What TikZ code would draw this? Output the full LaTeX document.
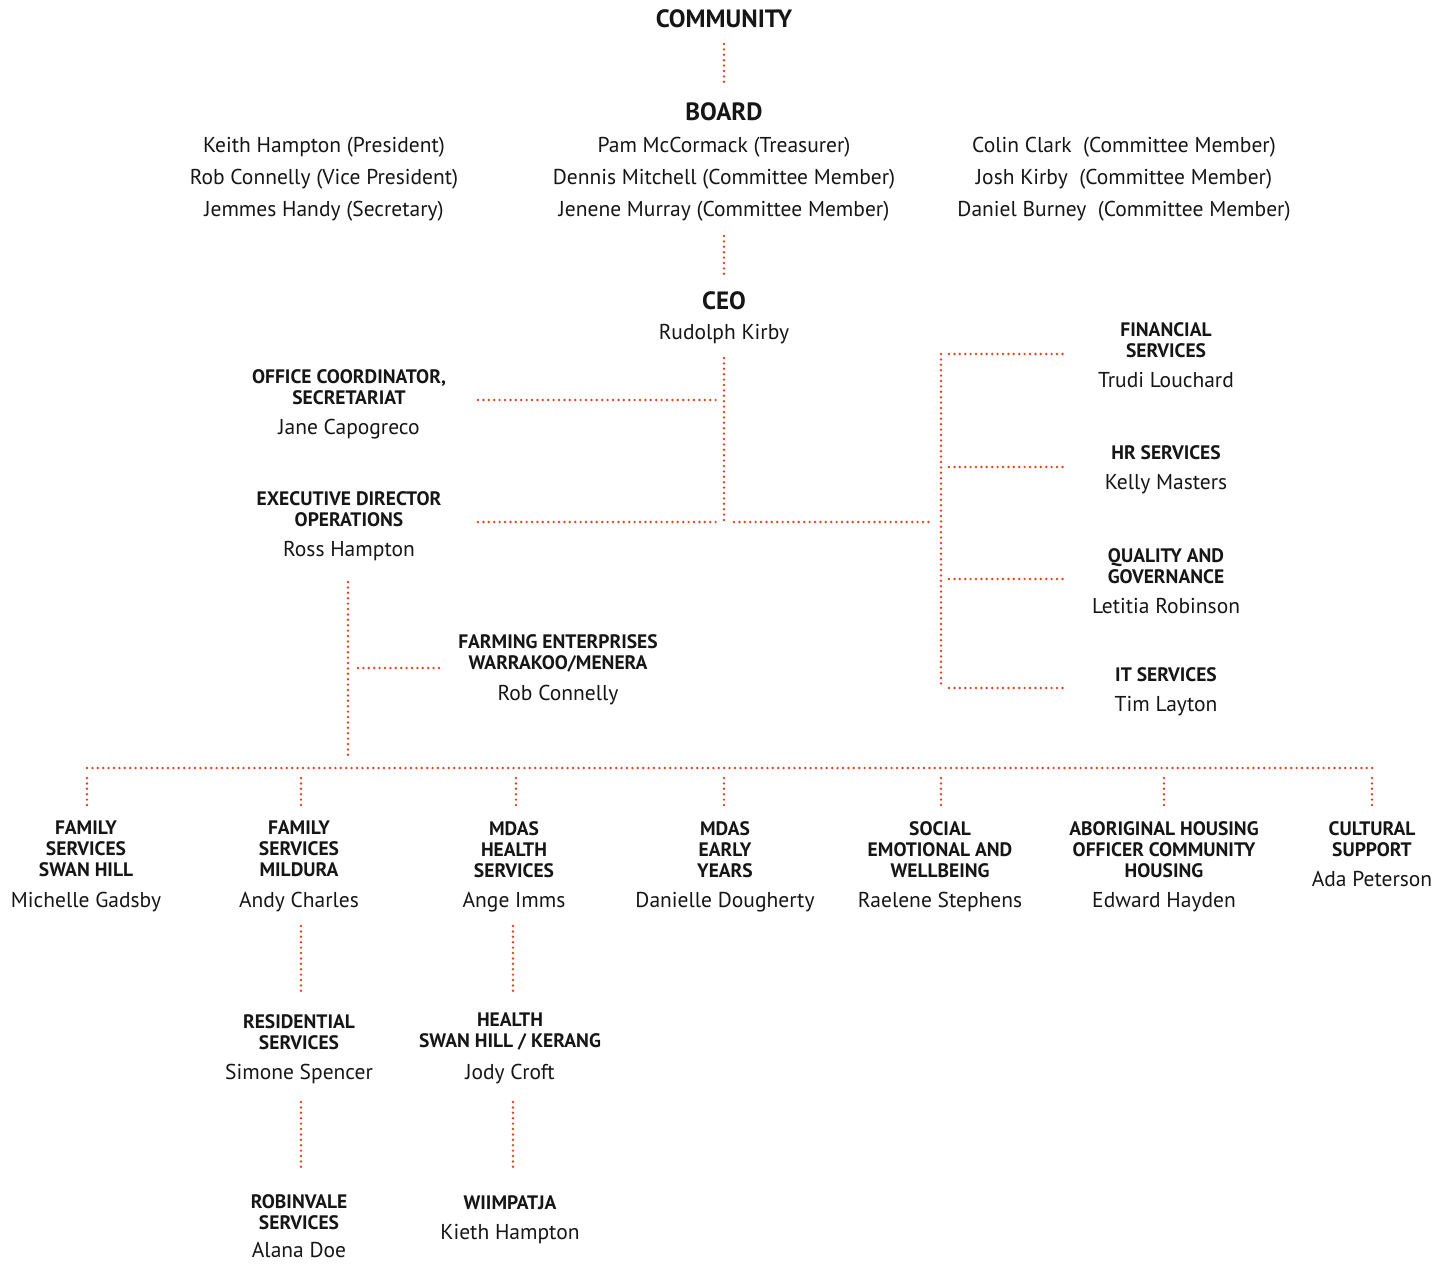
\documentclass[tikz,border=0pt]{standalone}
\usepackage{fontspec}
\setmainfont{PT Sans}
\definecolor{dotc}{HTML}{E4441F}
\definecolor{txt}{HTML}{161616}
\tikzset{
 conn/.style={dotc, line width=2.7pt, line cap=round, dash pattern=on 0pt off 5.4pt},
 ttl/.style={font=\bfseries\fontsize{19.5}{21}\selectfont, align=center, anchor=north, inner sep=0pt, text=txt},
 head/.style={font=\bfseries\fontsize{25}{27}\selectfont, anchor=north, inner sep=0pt, text=txt},
 nm/.style={font=\fontsize{21.5}{32}\selectfont, align=center, anchor=north, inner sep=0pt, text=txt},
}
\begin{document}
\begin{tikzpicture}[x=1pt,y=-1pt]
\useasboundingbox[fill=white] (0,0) rectangle (1450,1263);
% top
\node[head] (community) at (724,9) {COMMUNITY};
\node[head] (board) at (724,102) {BOARD};
\node[nm] (bl) at (324,137) {Keith Hampton (President)\\Rob Connelly (Vice President)\\Jemmes Handy (Secretary)};
\node[nm] (bm) at (724,137) {Pam McCormack (Treasurer)\\Dennis Mitchell (Committee Member)\\Jenene Murray (Committee Member)};
\node[nm] (br) at (1124,137) {Colin Clark\ \ (Committee Member)\\Josh Kirby\ \ (Committee Member)\\Daniel Burney\ \ (Committee Member)};
\node[head] (ceo) at (724,291) {CEO};
\node[nm] (ceon) at (724,324) {Rudolph Kirby};
% left
\node[ttl] (off) at (349,369) {OFFICE COORDINATOR,\\SECRETARIAT};
\node[nm] (offn) at (349,419) {Jane Capogreco};
\node[ttl] (exe) at (349,491) {EXECUTIVE DIRECTOR\\OPERATIONS};
\node[nm] (exen) at (349,541) {Ross Hampton};
\node[ttl] (farm) at (558,634) {FARMING ENTERPRISES\\WARRAKOO/MENERA};
\node[nm] (farmn) at (558,685) {Rob Connelly};
% right
\node[ttl] (fin) at (1166,322) {FINANCIAL\\SERVICES};
\node[nm] (finn) at (1166,372) {Trudi Louchard};
\node[ttl] (hr) at (1166,445) {HR SERVICES};
\node[nm] (hrn) at (1166,474) {Kelly Masters};
\node[ttl] (qual) at (1166,548) {QUALITY AND\\GOVERNANCE};
\node[nm] (qualn) at (1166,598) {Letitia Robinson};
\node[ttl] (it) at (1166,667) {IT SERVICES};
\node[nm] (itn) at (1166,696) {Tim Layton};
% bottom row
\node[ttl] (fsh) at (86,821) {FAMILY\\SERVICES\\SWAN HILL};
\node[nm] (fshn) at (86,892) {Michelle Gadsby};
\node[ttl] (fsm) at (299,821) {FAMILY\\SERVICES\\MILDURA};
\node[nm] (fsmn) at (299,892) {Andy Charles};
\node[ttl] (mhs) at (514,821) {MDAS\\HEALTH\\SERVICES};
\node[nm] (mhsn) at (514,892) {Ange Imms};
\node[ttl] (mey) at (725,821) {MDAS\\EARLY\\YEARS};
\node[nm] (meyn) at (725,892) {Danielle Dougherty};
\node[ttl] (sew) at (940,821) {SOCIAL\\EMOTIONAL AND\\WELLBEING};
\node[nm] (sewn) at (940,892) {Raelene Stephens};
\node[ttl] (aho) at (1164,821) {ABORIGINAL HOUSING\\OFFICER COMMUNITY\\HOUSING};
\node[nm] (ahon) at (1164,892) {Edward Hayden};
\node[ttl] (cul) at (1372,821) {CULTURAL\\SUPPORT};
\node[nm] (culn) at (1372,871) {Ada Peterson};
% lower
\node[ttl] (res) at (299,1014) {RESIDENTIAL\\SERVICES};
\node[nm] (resn) at (299,1064) {Simone Spencer};
\node[ttl] (hsk) at (510,1013) {HEALTH\\SWAN HILL / KERANG};
\node[nm] (hskn) at (510,1064) {Jody Croft};
\node[ttl] (rob) at (299,1194) {ROBINVALE\\SERVICES};
\node[nm] (robn) at (299,1242) {Alana Doe};
\node[ttl] (wii) at (510,1195) {WIIMPATJA};
\node[nm] (wiin) at (510,1224) {Kieth Hampton};
% coordinates
\coordinate (a1) at (724,44); \coordinate (a2) at (724,83);
\coordinate (b1) at (724,236); \coordinate (b2) at (724,275);
\coordinate (s1) at (724,358); \coordinate (s2) at (724,522);
\coordinate (o1) at (478,400); \coordinate (o2) at (716,400);
\coordinate (e1) at (478,522); \coordinate (e2) at (716,522);
\coordinate (r1) at (734,522); \coordinate (r2) at (932,522);
\coordinate (rs1) at (941,354); \coordinate (rs2) at (941,688);
\coordinate (d1) at (348,582); \coordinate (d2) at (348,760);
\coordinate (f1) at (358,668); \coordinate (f2) at (440,668);
\coordinate (bus1) at (87,768); \coordinate (bus2) at (1374,768);
\draw[conn] (a1) -- (a2);
\draw[conn] (b1) -- (b2);
\draw[conn] (s1) -- (s2);
\draw[conn] (o1) -- (o2);
\draw[conn] (e1) -- (e2);
\draw[conn] (r1) -- (r2);
\draw[conn] (rs1) -- (rs2);
\foreach \yy/\nn in {354/fin,467/hr,579/qual,688/it}{
  \coordinate (\nn l) at (949,\yy); \coordinate (\nn r) at (1067,\yy);
  \draw[conn] (\nn l) -- (\nn r);
}
\draw[conn] (d1) -- (d2);
\draw[conn] (f1) -- (f2);
\draw[conn] (bus1) -- (bus2);
\foreach \xx/\nn in {87/fsh,301/fsm,516/mhs,724/mey,941/sew,1164/aho,1372/cul}{
  \coordinate (\nn t) at (\xx,778); \coordinate (\nn b) at (\xx,806);
  \draw[conn] (\nn t) -- (\nn b);
}
\coordinate (l1) at (301,926); \coordinate (l2) at (301,994);
\coordinate (l3) at (513,926); \coordinate (l4) at (513,994);
\coordinate (l5) at (301,1102); \coordinate (l6) at (301,1170);
\coordinate (l7) at (513,1102); \coordinate (l8) at (513,1170);
\draw[conn] (l1) -- (l2);
\draw[conn] (l3) -- (l4);
\draw[conn] (l5) -- (l6);
\draw[conn] (l7) -- (l8);
\end{tikzpicture}
\end{document}
